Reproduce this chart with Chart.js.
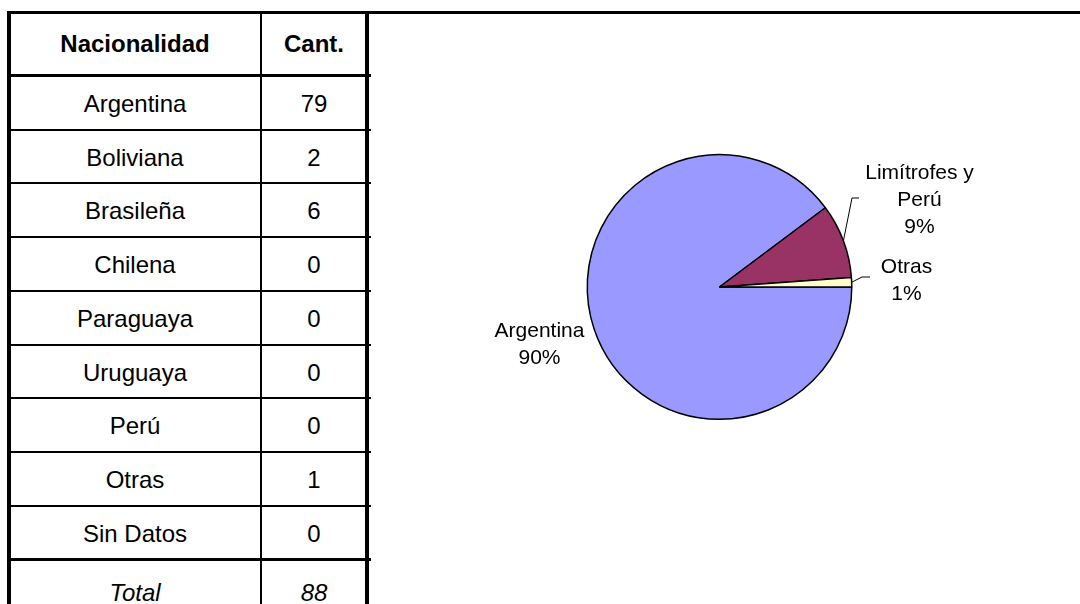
<!DOCTYPE html>
<html>
<head>
<meta charset="utf-8">
<script src="https://cdn.jsdelivr.net/npm/chart.js@4.4.0/dist/chart.umd.min.js"></script>
<style>
  html, body { margin: 0; padding: 0; background: #fff; }
  body { width: 1080px; height: 604px; position: relative; overflow: hidden; font-family: "Liberation Sans", Arial, sans-serif; color: #000; }
  .line { position: absolute; background: #000; }
  .cell { position: absolute; text-align: center; font-size: 24px; line-height: 1; transform: translateY(-50%); }
  .hdr { font-weight: bold; }
  .tot { font-style: italic; }
  #pieWrap { position: absolute; left: 380px; top: 0; width: 700px; height: 604px; }
</style>
</head>
<body>
<div id="table"></div>
<div id="pieWrap"><canvas id="pieChart" width="700" height="604"></canvas></div>
<script>
// Table data
const headers = ['Nacionalidad', 'Cant.'];
const nacionalidades = ['Argentina', 'Boliviana', 'Brasileña', 'Chilena', 'Paraguaya', 'Uruguaya', 'Perú', 'Otras', 'Sin Datos'];
const cantidades = [79, 2, 6, 0, 0, 0, 0, 1, 0];
const totalLabel = 'Total';

// Pie data
const pieLabels = [['Argentina'], ['Limítrofes y', 'Perú'], ['Otras']];
const pieValues = [79, 8, 1];
const pieColors = ['#9999ff', '#993366', '#ffffcc'];

// Table layout
const rowLines = [75, 130, 183, 237, 291, 345, 398, 452, 506, 559];
const colLeft = 9, colMid = 261, colRight = 367;
const tbl = document.getElementById('table');

function addLine(x, y, w, h) {
  const d = document.createElement('div');
  d.className = 'line';
  d.style.left = x + 'px'; d.style.top = y + 'px';
  d.style.width = w + 'px'; d.style.height = h + 'px';
  tbl.appendChild(d);
}
function addCell(text, x0, x1, yc, cls) {
  const d = document.createElement('div');
  d.className = 'cell' + (cls ? ' ' + cls : '');
  d.style.left = x0 + 'px'; d.style.width = (x1 - x0) + 'px';
  d.style.top = yc + 'px';
  d.textContent = text;
  tbl.appendChild(d);
}

// borders
addLine(7, 11, 1073, 3);
addLine(7, 11, 4, 593);
addLine(colMid - 1, 12, 2, 592);
addLine(365, 12, 4, 592);
rowLines.forEach((y, i) => {
  const thick = (i === 0 || i === rowLines.length - 1);
  addLine(7, y - (thick ? 1.5 : 1), 364, thick ? 3 : 2);
});

// texts
addCell(headers[0], colLeft, colMid, 44, 'hdr');
addCell(headers[1], colMid, colRight, 44, 'hdr');
nacionalidades.forEach((n, i) => {
  const yc = (rowLines[i] + rowLines[i + 1]) / 2 + 1;
  addCell(n, colLeft, colMid, yc);
  addCell(String(cantidades[i]), colMid, colRight, yc);
});
const total = cantidades.reduce((a, b) => a + b, 0);
addCell(totalLabel, colLeft, colMid, 593, 'tot');
addCell(String(total), colMid, colRight, 593, 'tot');

// Pie label positions (offset from pie centre) and leader lines
const labelOffsets = [
  { dx: -180, dy: 58 },
  { dx: 200, dy: -87 },
  { dx: 187, dy: -6 }
];
const leaders = [
  null,
  [[132.5, -89], [139.5, -89]],
  [[142.5, -10], [150.5, -10]]
];

const pieLabelPlugin = {
  id: 'pieLabels',
  afterDatasetsDraw(chart) {
    const ctx = chart.ctx;
    const meta = chart.getDatasetMeta(0);
    const sum = pieValues.reduce((a, b) => a + b, 0);
    ctx.save();
    ctx.font = '21px "Liberation Sans", Arial, sans-serif';
    ctx.fillStyle = '#000';
    ctx.textAlign = 'center';
    ctx.textBaseline = 'middle';
    meta.data.forEach((arc, i) => {
      const cx = arc.x, cy = arc.y;
      const lines = pieLabels[i].concat([Math.round(pieValues[i] / sum * 100) + '%']);
      const lh = 27;
      const off = labelOffsets[i];
      const y0 = cy + off.dy - (lines.length - 1) * lh / 2;
      lines.forEach((t, k) => ctx.fillText(t, cx + off.dx, y0 + k * lh));
      if (leaders[i]) {
        const mid = (arc.startAngle + arc.endAngle) / 2;
        ctx.beginPath();
        ctx.strokeStyle = '#000';
        ctx.lineWidth = 1;
        ctx.moveTo(cx + Math.cos(mid) * arc.outerRadius, cy + Math.sin(mid) * arc.outerRadius);
        leaders[i].forEach(p => ctx.lineTo(cx + p[0], cy + p[1]));
        ctx.stroke();
      }
    });
    ctx.restore();
  }
};

new Chart(document.getElementById('pieChart'), {
  type: 'pie',
  data: {
    labels: pieLabels.map(l => l.join(' ')),
    datasets: [{
      data: pieValues,
      backgroundColor: pieColors,
      borderColor: '#000',
      borderWidth: 1.5
    }]
  },
  options: {
    responsive: false,
    animation: false,
    rotation: 90,
    layout: { padding: { left: 206.5, right: 227.5, top: 154, bottom: 184 } },
    plugins: {
      legend: { display: false },
      tooltip: { enabled: false }
    }
  },
  plugins: [pieLabelPlugin]
});
</script>
</body>
</html>
